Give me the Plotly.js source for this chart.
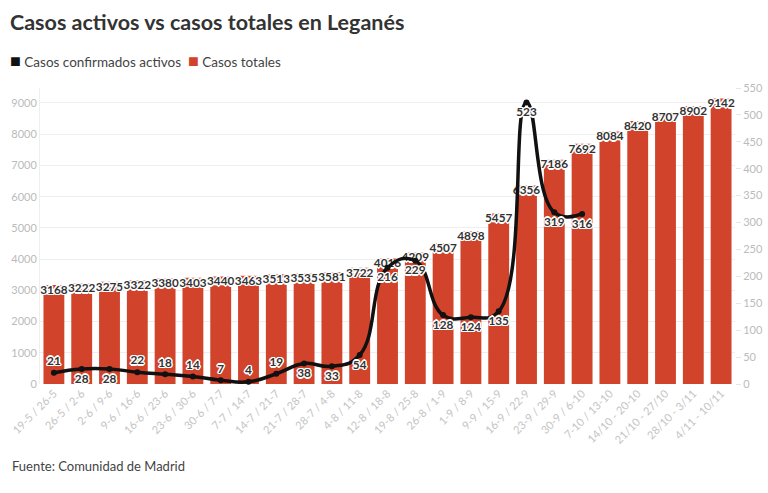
<!DOCTYPE html>
<html>
<head>
<meta charset="utf-8">
<script src="https://cdn.plot.ly/plotly-3.0.1.min.js"></script>
<style>
html,body{margin:0;padding:0;background:#fff;}
#chart{width:768px;height:493px;}
</style>
</head>
<body>
<div id="chart"></div>
<script>
const categories = ["19-5 / 26-5","26-5 / 2-6","2-6 / 9-6","9-6 / 16-6","16-6 / 23-6","23-6 / 30-6","30-6 / 7-7","7-7 / 14-7","14-7 / 21-7","21-7 / 28-7","28-7 / 4-8","4-8 / 11-8","12-8 / 18-8","19-8 / 25-8","26-8 / 1-9","1-9 / 8-9","9-9 / 15-9","16-9 / 22-9","23-9 / 29-9","30-9 / 6-10","7-10 / 13-10","14/10 - 20-10","21/10 - 27/10","28/10 - 3/11","4/11 - 10/11"];
const casosTotales = [3168,3222,3275,3322,3380,3403,3440,3463,3513,3535,3581,3722,4016,4209,4507,4898,5457,6356,7186,7692,8084,8420,8707,8902,9142];
const casosActivos = [21,28,28,22,18,14,7,4,19,38,33,54,216,229,128,124,135,523,319,316];
const activosLabelPos = ["top center","bottom center","bottom center","top center","top center","top center","top center","top center","top center","bottom center","bottom center","bottom center","bottom center","bottom center","bottom center","bottom center","bottom center","bottom center","bottom center","bottom center"];
const legendNames = ["Casos confirmados activos", "Casos totales"];

const RED = "#d2432b";
const BLACK = "#111111";
const halo = "1px 1px 0 #fff, -1px -1px 0 #fff, 1px -1px 0 #fff, -1px 1px 0 #fff, 0 1.5px 0 #fff, 0 -1.5px 0 #fff, 1.5px 0 0 #fff, -1.5px 0 0 #fff";
const FONT = "Lato, 'Source Sans Pro', 'Open Sans', sans-serif";

const Y_MAX = 9480;
const PLOT_H = 296;
const bandOffset = 4.5 * Y_MAX / PLOT_H;

const traces = [
  {
    type: "bar", name: legendNames[1],
    x: categories, y: casosTotales,
    marker: {color: RED}, yaxis: "y", showlegend: false
  },
  {
    type: "scatter", mode: "markers",
    x: categories, y: casosTotales.map(v => v - bandOffset),
    marker: {symbol: "line-ew", size: 21, line: {color: "#ffffff", width: 1.8}},
    showlegend: false, hoverinfo: "skip"
  },
  {
    type: "scatter", mode: "text",
    x: categories, y: casosTotales,
    text: casosTotales.map(String), textposition: "bottom center",
    textfont: {family: FONT, size: 11.8, color: "#333", weight: 700, shadow: halo},
    showlegend: false, hoverinfo: "skip", cliponaxis: false
  },
  {
    type: "scatter", mode: "lines+markers+text", name: legendNames[0],
    x: categories.slice(0, casosActivos.length), y: casosActivos,
    yaxis: "y2",
    line: {color: BLACK, width: 3.5, shape: "spline", smoothing: 1.3},
    marker: {color: BLACK, size: 6},
    text: casosActivos.map(String), textposition: activosLabelPos,
    textfont: {family: FONT, size: 11.8, color: "#333", weight: 700, shadow: halo},
    showlegend: false, cliponaxis: false
  }
];

const legendText =
  "<span style='color:" + BLACK + ";font-size:18px'>■</span> " + legendNames[0] +
  "  <span style='color:" + RED + ";font-size:18px'>■</span> " + legendNames[1];

const layout = {
  width: 768, height: 493,
  margin: {l: 40, r: 33, t: 88, b: 109, autoexpand: false},
  paper_bgcolor: "#fff", plot_bgcolor: "#fff",
  font: {family: FONT, color: "#333"},
  title: {
    text: "<b>Casos activos vs casos totales en Leganés</b>",
    font: {family: FONT, size: 21.5, color: "#333"},
    x: 0.013, xref: "container", xanchor: "left",
    y: 0.955, yref: "container", yanchor: "middle"
  },
  bargap: 0.25,
  showlegend: false,
  xaxis: {
    type: "category", tickangle: -45, range: [-0.5, categories.length - 0.5],
    tickfont: {family: FONT, size: 11, color: "#c4c4c4"},
    showgrid: false, zeroline: false, showline: false, ticks: "", automargin: false
  },
  yaxis: {
    range: [0, Y_MAX], dtick: 1000, tick0: 0,
    tickfont: {family: FONT, size: 11, color: "#bbb"},
    gridcolor: "#eeeeee", zeroline: false,
    showline: true, linecolor: "#eeeeee", linewidth: 1, automargin: false
  },
  yaxis2: {
    overlaying: "y", side: "right",
    range: [0, 550], dtick: 50, tick0: 0,
    tickfont: {family: FONT, size: 11, color: "#bbb"},
    showgrid: false, zeroline: false,
    ticks: "outside", ticklen: 5, tickcolor: "#e6e6e6", automargin: false
  },
  annotations: [
    {
      text: legendText,
      xref: "paper", yref: "paper", x: 0, xanchor: "left", xshift: -32,
      y: 1.095, yanchor: "middle", showarrow: false,
      font: {family: FONT, size: 13.5, color: "#444"}
    },
    {
      text: "Fuente: Comunidad de Madrid",
      xref: "paper", yref: "paper", x: 0, xanchor: "left",
      y: -0.277, yanchor: "middle", showarrow: false, xshift: -30,
      font: {family: FONT, size: 13, color: "#444"}
    }
  ]
};

Plotly.newPlot("chart", traces, layout, {displayModeBar: false, staticPlot: true});
</script>
</body>
</html>
